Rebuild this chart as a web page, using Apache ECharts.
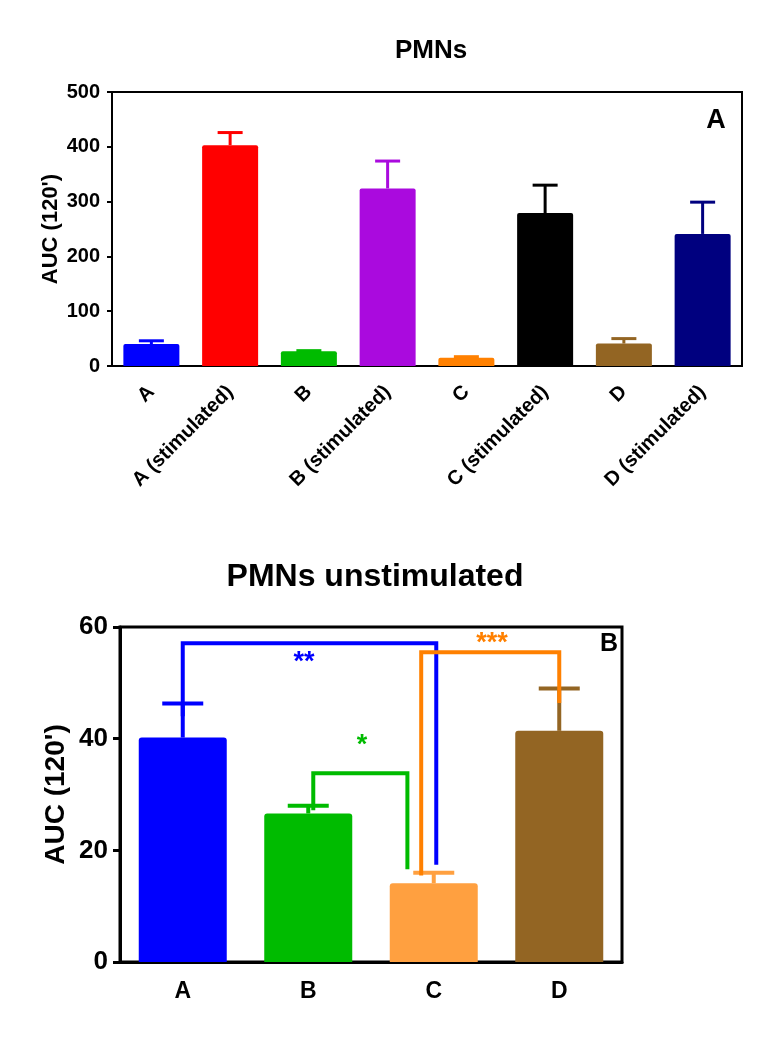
<!DOCTYPE html>
<html>
<head>
<meta charset="utf-8">
<script src="https://cdn.jsdelivr.net/npm/echarts@6/dist/echarts.min.js"></script>
<style>
html,body{margin:0;padding:0;background:#fff;}
#chart{width:771px;height:1048px;}
</style>
</head>
<body>
<div id="chart"></div>
<script>
// ---------- data: panel A ----------
var topCategories = ['A', 'A (stimulated)', 'B', 'B (stimulated)', 'C', 'C (stimulated)', 'D', 'D (stimulated)'];
var topValues = [40, 403, 27, 324, 15, 279, 41, 241];
var topErrors = [6, 23, 1, 50, 2, 51, 9, 58];
var topColors = ['#0000ff', '#ff0000', '#00bb00', '#aa0ade', '#ff8000', '#000000', '#936523', '#00007f'];
var topTicks = [0, 100, 200, 300, 400, 500];

// ---------- data: panel B ----------
var bottomCategories = ['A', 'B', 'C', 'D'];
var bottomValues = [40.2, 26.6, 14.1, 41.4];
var bottomErrors = [6.1, 1.4, 1.9, 7.6];
var bottomColors = ['#0000ff', '#00bb00', '#ffa040', '#936523'];
var bottomTicks = [0, 20, 40, 60];

// significance brackets (x in category index units, y in data units)
var blueBracket = [[0, 44], [0, 57.1], [2.02, 57.1], [2.02, 17.4]];
var greenBracket = [[1.04, 27.2], [1.04, 33.8], [1.79, 33.8], [1.79, 16.6]];
var orangeBracket = [[1.9, 15.5], [1.9, 55.5], [3, 55.5], [3, 46.4]];
var starLabels = ['**', '*', '***'];
var starPositions = [[0.966, 53.6], [1.428, 38.7], [2.464, 57.0]];
var starColors = ['#0000ff', '#00bb00', '#ff8000'];

var FONT = '"Liberation Sans", Arial, sans-serif';

function errorBarSeries(xAxisIndex, yAxisIndex, values, errors, colors, capWidth, lineWidth) {
  return {
    type: 'custom',
    xAxisIndex: xAxisIndex,
    yAxisIndex: yAxisIndex,
    z: 3,
    data: values.map(function (v, i) { return [i, v, v + errors[i]]; }),
    renderItem: function (params, api) {
      var i = params.dataIndex;
      var p0 = api.coord([api.value(0), api.value(1)]);
      var p1 = api.coord([api.value(0), api.value(2)]);
      var st = { stroke: colors[i], lineWidth: lineWidth };
      return {
        type: 'group',
        children: [
          { type: 'line', shape: { x1: p0[0], y1: p0[1], x2: p1[0], y2: p1[1] }, style: st },
          { type: 'line', shape: { x1: p1[0] - capWidth / 2, y1: p1[1], x2: p1[0] + capWidth / 2, y2: p1[1] }, style: st }
        ]
      };
    }
  };
}

function bracketSeries(data, color) {
  return {
    type: 'line',
    xAxisIndex: 2,
    yAxisIndex: 1,
    data: data,
    symbol: 'none',
    z: 4,
    silent: true,
    lineStyle: { color: color, width: 4, join: 'miter' },
    animation: false
  };
}

var chart = echarts.init(document.getElementById('chart'), null, { renderer: 'canvas' });

var option = {
  animation: false,
  backgroundColor: '#ffffff',
  textStyle: { fontFamily: FONT },
  grid: [
    { left: 112, right: 29, top: 92, bottom: 682, show: true, borderColor: '#000', borderWidth: 2, backgroundColor: 'transparent' },
    { left: 120, right: 149, top: 627, bottom: 86, show: true, borderColor: '#000', borderWidth: 3, backgroundColor: 'transparent' }
  ],
  xAxis: [
    {
      type: 'category', gridIndex: 0, data: topCategories,
      axisLine: { onZero: false, lineStyle: { color: '#000', width: 2 } },
      axisTick: { alignWithLabel: true, length: 7, lineStyle: { color: '#000', width: 2 } },
      axisLabel: { rotate: 45, margin: 23, color: '#000', fontWeight: 'bold', fontSize: 20, fontFamily: FONT, interval: 0 }
    },
    {
      type: 'category', gridIndex: 1, data: bottomCategories,
      axisLine: { onZero: false, lineStyle: { color: '#000', width: 3 } },
      axisTick: { alignWithLabel: true, length: 8, lineStyle: { color: '#000', width: 3 } },
      axisLabel: { margin: 18, color: '#000', fontWeight: 'bold', fontSize: 23, fontFamily: FONT, interval: 0 }
    },
    { type: 'value', gridIndex: 1, min: -0.5, max: 3.5, show: false, axisLine: { onZero: false } }
  ],
  yAxis: [
    {
      type: 'value', gridIndex: 0, min: topTicks[0], max: topTicks[topTicks.length - 1], interval: 100,
      splitLine: { show: false },
      axisLine: { show: true, onZero: false, lineStyle: { color: '#000', width: 2 } },
      axisTick: { show: true, length: 5, lineStyle: { color: '#000', width: 2 } },
      axisLabel: { margin: 12, color: '#000', fontWeight: 'bold', fontSize: 20, fontFamily: FONT },
      name: "AUC (120')", nameLocation: 'middle', nameGap: 50, nameRotate: 90, nameMoveOverlap: false,
      nameTextStyle: { color: '#000', fontWeight: 'bold', fontSize: 22, fontFamily: FONT }
    },
    {
      type: 'value', gridIndex: 1, min: bottomTicks[0], max: bottomTicks[bottomTicks.length - 1], interval: 20,
      splitLine: { show: false },
      axisLine: { show: true, onZero: false, lineStyle: { color: '#000', width: 3 } },
      axisTick: { show: true, length: 7, lineStyle: { color: '#000', width: 3 } },
      axisLabel: { margin: 12, color: '#000', fontWeight: 'bold', fontSize: 26, fontFamily: FONT },
      name: "AUC (120')", nameLocation: 'middle', nameGap: 50, nameRotate: 90, nameMoveOverlap: false,
      nameTextStyle: { color: '#000', fontWeight: 'bold', fontSize: 28, fontFamily: FONT }
    }
  ],
  graphic: [
    { type: 'text', x: 431, y: 51, style: { text: 'PMNs', font: 'bold 26px ' + FONT, fill: '#000', align: 'center', verticalAlign: 'middle' } },
    { type: 'text', x: 375, y: 577, style: { text: 'PMNs unstimulated', font: 'bold 32px ' + FONT, fill: '#000', align: 'center', verticalAlign: 'middle' } },
    { type: 'text', x: 716, y: 121, style: { text: 'A', font: 'bold 27px ' + FONT, fill: '#000', align: 'center', verticalAlign: 'middle' } },
    { type: 'text', x: 609, y: 644, style: { text: 'B', font: 'bold 25px ' + FONT, fill: '#000', align: 'center', verticalAlign: 'middle' } }
  ],
  series: [
    {
      type: 'bar', xAxisIndex: 0, yAxisIndex: 0, barWidth: 56, z: 2,
      data: topValues.map(function (v, i) { return { value: v, itemStyle: { color: topColors[i], borderRadius: [2, 2, 0, 0] } }; })
    },
    errorBarSeries(0, 0, topValues, topErrors, topColors, 25, 3),
    {
      type: 'bar', xAxisIndex: 1, yAxisIndex: 1, barWidth: 88, z: 2,
      data: bottomValues.map(function (v, i) { return { value: v, itemStyle: { color: bottomColors[i], borderRadius: [3, 3, 0, 0] } }; })
    },
    errorBarSeries(1, 1, bottomValues, bottomErrors, bottomColors, 41, 4),
    bracketSeries(blueBracket, '#0000ff'),
    bracketSeries(greenBracket, '#00bb00'),
    bracketSeries(orangeBracket, '#ff8000'),
    {
      type: 'custom', xAxisIndex: 2, yAxisIndex: 1, z: 5,
      data: starPositions,
      renderItem: function (params, api) {
        var i = params.dataIndex;
        var p = api.coord([api.value(0), api.value(1)]);
        return {
          type: 'text', x: p[0], y: p[1],
          style: { text: starLabels[i], font: 'bold 27px ' + FONT, fill: starColors[i], align: 'center', verticalAlign: 'middle' }
        };
      }
    }
  ]
};
chart.setOption(option);
</script>
</body>
</html>
